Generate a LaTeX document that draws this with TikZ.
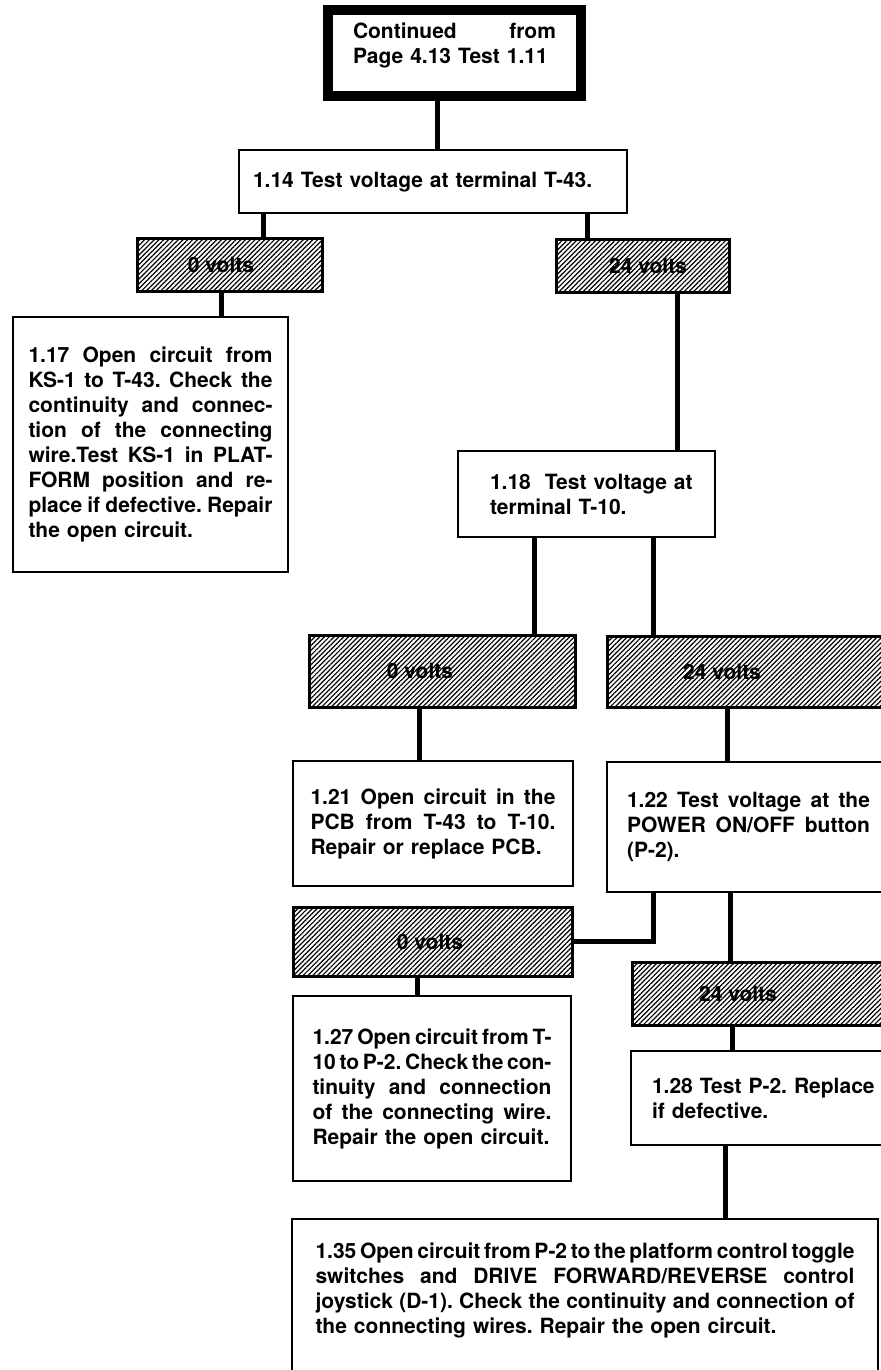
\documentclass[tikz,border=0pt]{standalone}
\usepackage{fontspec}
\setmainfont{TeX Gyre Heros}
\usetikzlibrary{patterns.meta}
\newlength{\jw}
\newcommand{\jl}[1]{\makebox[\jw][s]{\spaceskip=.28em plus 1fil minus .12em\relax #1}}

\begin{document}
\begin{tikzpicture}[x=.5pt, y=-.5pt,
  every node/.style={font=\fontsize{10.5}{12.5}\selectfont\bfseries\frenchspacing, inner sep=0pt},
  box/.style={draw, line width=1.2pt, align=left, text width=#1, execute at begin node={\setlength{\jw}{#1}}},
  volts/.style={draw, line width=1.5pt, pattern={Lines[angle=45, distance=1.7pt, line width=.6pt]}},
  link/.style={line width=2.5pt}]
\useasboundingbox (0,0) rectangle (880,1370);

\node [box=101.5pt, line width=5pt, minimum width=126.5pt, minimum height=43pt, text depth=22pt] (start) at (454.5,53) {\jl{Continued from}\\ \mbox{Page 4.13 Test 1.11}};
\node [box=180pt, minimum width=194pt, minimum height=31.5pt] (t114) at (433,181.5) {\mbox{1.14 Test voltage at terminal T-43.}};

\node [volts, minimum width=92.5pt, minimum height=26.5pt] (v0a) at (229.5,264.5) {\hspace*{-8.5pt}0 volts};
\node [volts, minimum width=86.5pt, minimum height=26.5pt] (v24a) at (642.5,265.5) {\hspace*{5.5pt}24 volts};

\node [box=122pt, minimum width=137.5pt, minimum height=127.5pt] (t117) at (150.5,444.5) {\jl{1.17 Open circuit from}\\ \jl{KS-1 to T-43. Check the}\\ \jl{continuity and connec-}\\ \jl{tion of the connecting}\\ \jl{wire.Test KS-1 in PLAT-}\\ \jl{FORM position and re-}\\ \jl{place if defective. Repair}\\ \mbox{the open circuit.}};
\node [box=96.5pt, minimum width=128.5pt, minimum height=43pt] (t118) at (586.5,494) {\mbox{1.18~ Test voltage at}\\ \mbox{terminal T-10.}};

\node [volts, minimum width=133pt, minimum height=36pt] (v0b) at (442,671) {\hspace*{-22pt}0 volts};
\node [volts, minimum width=141.5pt, minimum height=35.5pt] (v24b) at (748.5,671.5) {\hspace*{-26.5pt}24 volts};

\node [box=122.5pt, minimum width=140pt, minimum height=62.5pt] (t121) at (433,823.5) {\jl{1.21 Open circuit in the}\\ \jl{PCB from T-43 to T-10.}\\ \mbox{Repair or replace PCB.}};
\node [box=121.5pt, minimum width=141.5pt, minimum height=65pt] (t122) at (748.5,827) {\jl{1.22 Test voltage at the}\\ \jl{POWER ON/OFF button}\\ \mbox{(P-2).}};

\node [volts, minimum width=139.5pt, minimum height=34.5pt] (v0c) at (432.5,941.5) {\hspace*{-2.5pt}0 volts};
\node [volts, minimum width=129pt, minimum height=31.5pt] (v24c) at (761,993.5) {\hspace*{-23pt}24 volts};

\node [box=119.5pt, minimum width=139pt, minimum height=92.5pt] (t127) at (432,1088.5) {\jl{1.27 Open circuit from T-}\\ \jl{10 to P-2. Check the con-}\\ \jl{tinuity and connection}\\ \jl{of the connecting wire.}\\ \mbox{Repair the open circuit.}};
\node [box=108.5pt, minimum width=129.5pt, minimum height=47pt] (t128) at (760.5,1098) {\mbox{1.28 Test P-2. Replace}\\ \mbox{if defective.}};

\node [box=269.5pt, minimum width=293pt, minimum height=78.5pt, text depth=46.5pt] (t135) at (585,1297.5) {\jl{1.35 Open circuit from P-2 to the platform control toggle}\\ \jl{switches and DRIVE FORWARD/REVERSE control}\\ \jl{joystick (D-1). Check the continuity and connection of}\\ \mbox{the connecting wires. Repair the open circuit.}};

\draw [link] (start.south -| 437,0) -- (t114.north -| 437,0);
\draw [link] (t114.south -| 263,0) -- (v0a.north -| 263,0);
\draw [link] (t114.south -| 587,0) -- (v24a.north -| 587,0);
\draw [link] (v0a.south -| 221,0) -- (t117.north -| 221,0);
\draw [link] (v24a.south -| 677,0) -- (t118.north -| 677,0);
\draw [link] (t118.south -| 534,0) -- (v0b.north -| 534,0);
\draw [link] (t118.south -| 653,0) -- (v24b.north -| 653,0);
\draw [link] (v0b.south -| 419,0) -- (t121.north -| 419,0);
\draw [link] (v24b.south -| 727,0) -- (t122.north -| 727,0);
\draw [link] (t122.south -| 653,0) |- (v0c.east);
\draw [link] (t122.south -| 730,0) -- (v24c.north -| 730,0);
\draw [link] (v0c.south -| 417,0) -- (t127.north -| 417,0);
\draw [link] (v24c.south -| 732,0) -- (t128.north -| 732,0);
\draw [link] (t128.south -| 725,0) -- (t135.north -| 725,0);

\end{tikzpicture}
\end{document}
